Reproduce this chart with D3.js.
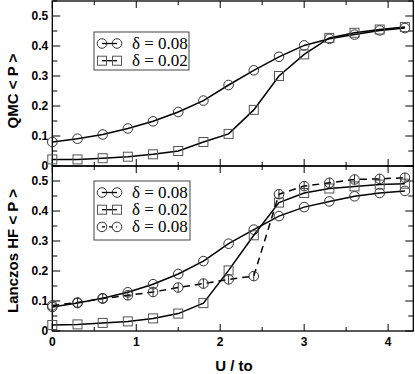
<!DOCTYPE html>
<html><head><meta charset="utf-8">
<script src="https://cdn.jsdelivr.net/npm/d3@7"></script>
<style>body{margin:0;background:#fff}svg{display:block}</style>
</head><body>
<svg id="c" width="415" height="374"></svg>
<script>
const U = [0,0.3,0.6,0.9,1.2,1.5,1.8,2.1,2.4,2.7,3.0,3.3,3.6,3.9,4.2];
const qmc08 = [0.080,0.091,0.105,0.125,0.149,0.180,0.218,0.270,0.319,0.364,0.402,0.424,0.438,0.452,0.460];
const qmc02 = [0.022,0.022,0.026,0.031,0.039,0.050,0.080,0.107,0.187,0.300,0.372,0.427,0.444,0.455,0.463];
const lz08  = [0.080,0.093,0.109,0.129,0.156,0.190,0.233,0.291,0.338,0.383,0.413,0.432,0.449,0.460,0.467];
const lz02  = [0.020,0.022,0.027,0.032,0.042,0.058,0.093,0.202,0.319,0.428,0.460,0.475,0.482,0.488,0.491];
const hf08  = [0.085,0.095,0.108,0.119,0.130,0.145,0.158,0.172,0.183,0.456,0.483,0.494,0.505,0.507,0.511];
const xTicks = [0,1,2,3,4];
const yTicks = [0,0.1,0.2,0.3,0.4,0.5];
const legendTop = ["δ = 0.08","δ = 0.02"];
const legendBot = ["δ = 0.08","δ = 0.02","δ = 0.08"];

const SANS = "'Liberation Sans', Arial, sans-serif";
const SERIF = "'Liberation Serif', 'DejaVu Serif', serif";
const svg = d3.select("#c");
const X0=52.3, X1=413.3;
const x = d3.scaleLinear().domain([0,4.3]).range([X0,X1]);
const yTop = d3.scaleLinear().domain([0,0.55]).range([166,1]);
const yBot = d3.scaleLinear().domain([0,0.55]).range([331,166]);

function frame(y, showX){
  const g = svg.append("g");
  const [b,t] = y.range();
  const xmaj = d3.range(0,4.31,1), xmin = d3.range(0.5,4.31,1);
  const ymaj = d3.range(0,0.551,0.1), ymin = d3.range(0.05,0.551,0.1);
  const tk = (x1,y1,x2,y2)=>g.append("line").attr("x1",x1).attr("y1",y1).attr("x2",x2).attr("y2",y2).attr("stroke","#000").attr("stroke-width",1);
  xmaj.forEach(v=>{tk(x(v),b,x(v),b-7);tk(x(v),t,x(v),t+7);});
  xmin.forEach(v=>{tk(x(v),b,x(v),b-4);tk(x(v),t,x(v),t+4);});
  ymaj.forEach(v=>{tk(X0,y(v),X0+8,y(v));tk(X1,y(v),X1-8,y(v));});
  ymin.forEach(v=>{tk(X0,y(v),X0+5,y(v));tk(X1,y(v),X1-5,y(v));});
  g.append("rect").attr("x",X0).attr("y",t).attr("width",X1-X0).attr("height",b-t)
    .attr("fill","none").attr("stroke","#000").attr("stroke-width",1.3);
  g.selectAll("text.yl").data(yTicks).enter().append("text")
    .attr("x",X0-4).attr("y",d=>y(d)+4).attr("text-anchor","end")
    .attr("font-family",SANS).attr("font-weight","bold").attr("font-size",12)
    .text(d=>d===0?"0":d3.format(".1f")(d));
  if(showX){
    g.selectAll("text.xl").data(xTicks).enter().append("text")
      .attr("x",d=>x(d)).attr("y",b+15).attr("text-anchor","middle")
      .attr("font-family",SANS).attr("font-weight","bold").attr("font-size",12)
      .text(d=>d);
  }
}

function series(y, vals, shape, dashed, ebar){
  const pts = U.map((u,i)=>[x(u), y(vals[i])]);
  svg.append("path").attr("d",d3.line()(pts)).attr("fill","none").attr("stroke","#000")
    .attr("stroke-width",1.5).attr("stroke-dasharray",dashed?"7,5":null);
  const g = svg.append("g");
  pts.forEach(p=>{
    if(shape==="c") g.append("circle").attr("cx",p[0]).attr("cy",p[1]).attr("r",4.8)
      .attr("fill","none").attr("stroke","#333").attr("stroke-width",1);
    else g.append("rect").attr("x",p[0]-4.5).attr("y",p[1]-4.5).attr("width",9).attr("height",9)
      .attr("fill","none").attr("stroke","#555").attr("stroke-width",1);
    if(ebar) g.append("line").attr("x1",p[0]).attr("x2",p[0]).attr("y1",p[1]-4.8).attr("y2",p[1]+4.8)
      .attr("stroke","#333").attr("stroke-width",1);
  });
}

function legend(x0,y0,w,h,labels,styles){
  svg.append("rect").attr("x",x0).attr("y",y0).attr("width",w).attr("height",h)
    .attr("fill","#fff").attr("stroke","#444").attr("stroke-width",1);
  labels.forEach((lab,i)=>{
    const cy = y0+11.5+i*17.2, s=styles[i];
    svg.append("line").attr("x1",x0+8).attr("x2",x0+23).attr("y1",cy).attr("y2",cy)
      .attr("stroke","#000").attr("stroke-width",1.3).attr("stroke-dasharray",s.d?"3,4":null);
    [x0+8,x0+23].forEach(cx=>{
      if(s.shape==="c") svg.append("circle").attr("cx",cx).attr("cy",cy).attr("r",4.8).attr("fill","none").attr("stroke","#333");
      else svg.append("rect").attr("x",cx-4.5).attr("y",cy-4.5).attr("width",9).attr("height",9).attr("fill","none").attr("stroke","#555");
    });
    svg.append("text").attr("x",x0+38).attr("y",cy+5.5)
      .attr("font-family",SERIF).attr("font-size",17).text(lab);
  });
}

frame(yTop,false);
frame(yBot,true);
series(yTop,qmc08,"c",false,false);
series(yTop,qmc02,"s",false,false);
series(yBot,lz08,"c",false,false);
series(yBot,lz02,"s",false,false);
series(yBot,hf08,"c",true,true);
legend(94,32,95,38,legendTop,[{shape:"c"},{shape:"s"}]);
legend(94,181,96,59,legendBot,[{shape:"c"},{shape:"s"},{shape:"c",d:true}]);

svg.append("text").attr("x",234).attr("y",371).attr("text-anchor","middle")
  .attr("font-family",SANS).attr("font-weight","bold").attr("font-size",15).text("U / to");
svg.append("text").attr("transform","translate(18,91) rotate(-90)").attr("text-anchor","middle")
  .attr("font-family",SANS).attr("font-weight","bold").attr("font-size",15).text("QMC < P >");
svg.append("text").attr("transform","translate(18,251) rotate(-90)").attr("text-anchor","middle")
  .attr("font-family",SANS).attr("font-weight","bold").attr("font-size",15).text("Lanczos HF < P >");
</script>
</body></html>
